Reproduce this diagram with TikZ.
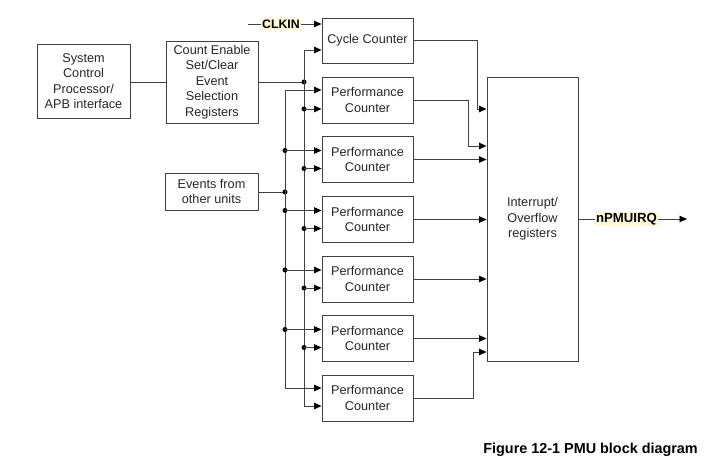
\documentclass[tikz,border=0pt]{standalone}
\usepackage{fontspec}
\setmainfont{Liberation Sans}
\usetikzlibrary{arrows.meta,calc}
\definecolor{linegray}{HTML}{404040}
\definecolor{hlyellow}{HTML}{FFF8D6}
\begin{document}
\begin{tikzpicture}[x=1pt,y=-1pt,
  line/.style={draw=linegray, line width=0.9pt},
  box/.style={draw=linegray, line width=0.9pt, align=center, inner sep=0pt,
    font=\fontsize{12.7}{15.5}\selectfont, text=black!85},
  arr/.style={line, -{Triangle[length=7.5pt,width=6.5pt,color=black]}},
  dot/.style={circle, fill=black, inner sep=0pt, minimum size=5pt},
  hl/.style={fill=hlyellow, inner sep=1.2pt, text=black}]
\useasboundingbox (0,0) rectangle (720,462);

% boxes
\node[box, minimum width=93pt, minimum height=74pt] (sys) at (83.5,81)
  {System\\Control\\Processor/\\APB interface};
\node[box, minimum width=92pt, minimum height=82pt] (cnt) at (212,82)
  {Count Enable\\Set/Clear\\Event\\Selection\\Registers};
\node[box, minimum width=93pt, minimum height=37pt] (ev) at (211.5,191.5)
  {Events from\\other units};
\node[box, minimum width=91pt, minimum height=45pt] (cyc) at (367.5,40.5)
  {Cycle Counter};
\foreach \i/\y in {1/100,2/159.5,3/219.5,4/279,5/338.5,6/398}{
  \node[box, minimum width=91pt, minimum height=46pt] (pc\i) at (367.5,\y)
    {Performance\\Counter};
}
\node[box, minimum width=91pt, minimum height=284pt] (intr) at (532.5,219)
  {Interrupt/\\Overflow\\registers};

% labels
\node[hl, font=\bfseries\fontsize{12.3}{14}\selectfont] (clk) at (281,24) {CLKIN};
\node[hl, font=\bfseries\fontsize{13.2}{15}\selectfont] (irq) at (626.5,219) {nPMUIRQ};
\node[anchor=east, inner sep=0pt, font=\bfseries\fontsize{14.4}{16}\selectfont] (cap) at (698,450)
  {Figure 12-1 PMU block diagram};

% CLKIN
\coordinate (clkin) at (248,24);
\draw[line] (clkin) -- (clk.west);
\draw[arr] (clk.east) -- (clk.east -| cyc.west);

% system to count enable
\draw[line] (sys.east |- cnt.west) -- (cnt.west);

% count enable bus (x=304)
\coordinate (eb) at (304,82);
\coordinate (ebtop) at (304,50);
\coordinate (ebbot) at ($(pc6.west)+(0,8)$);
\draw[line] (cnt.east) -- (eb);
\node[dot] (ebd0) at (eb) {};
\draw[line] (ebtop) -- (ebbot -| ebtop);
\draw[arr] (ebtop) -- (ebtop -| cyc.west);
\draw[arr] (ebbot -| ebtop) -- (ebbot);
\foreach \i in {1,...,5}{
  \coordinate (et\i) at ($(pc\i.west)+(0,9)$);
  \node[dot] (ed\i) at (et\i -| ebtop) {};
  \draw[arr] (ed\i.center) -- (et\i);
}

% events bus (x=285)
\coordinate (vb) at (285,192);
\coordinate (vbtop) at ($(pc1.west)+(0,-10)$);
\coordinate (vbbot) at ($(pc6.west)+(0,-10)$);
\draw[line] (ev.east |- vb) -- (vb);
\node[dot] (vbd0) at (vb) {};
\draw[line] (vbtop -| vb) -- (vbbot -| vb);
\draw[arr] (vbtop -| vb) -- (vbtop);
\draw[arr] (vbbot -| vb) -- (vbbot);
\foreach \i in {2,...,5}{
  \coordinate (vt\i) at ($(pc\i.west)+(0,-9)$);
  \node[dot] (vd\i) at (vt\i -| vb) {};
  \draw[arr] (vd\i.center) -- (vt\i);
}

% outputs to interrupt/overflow registers
\draw[arr] (cyc.east) -- (477,40.5) -- (477,109) -- (intr.west |- 0,109);
\draw[arr] (pc1.east) -- (468,100) -- (468,146) -- (intr.west |- 0,146);
\draw[arr] (pc2.east) -- (pc2.east -| intr.west);
\draw[arr] (pc3.east) -- (pc3.east -| intr.west);
\draw[arr] (pc4.east) -- (pc4.east -| intr.west);
\draw[arr] (pc5.east) -- (pc5.east -| intr.west);
\draw[arr] (pc6.east) -- (473,398) -- (473,352) -- (intr.west |- 0,352);

% nPMUIRQ output
\coordinate (irqend) at (687,219);
\draw[line] (intr.east) -- (irq.west);
\draw[arr] (irq.east) -- (irqend);
\end{tikzpicture}
\end{document}
